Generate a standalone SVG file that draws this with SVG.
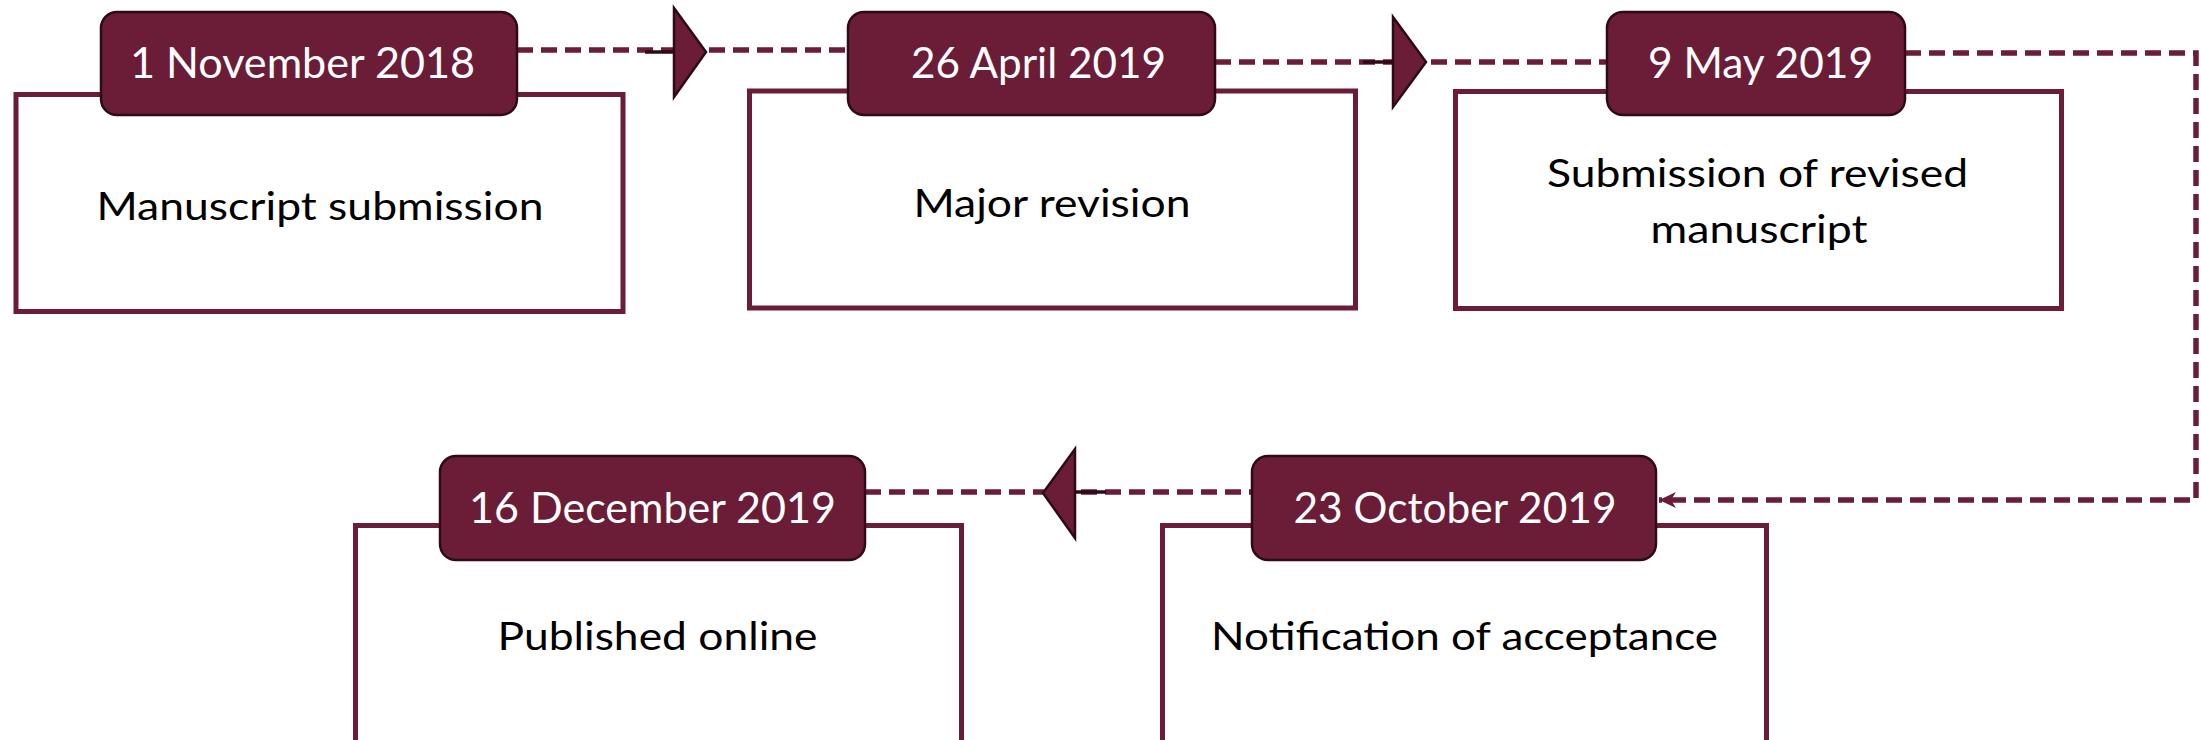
<svg xmlns="http://www.w3.org/2000/svg" width="2201" height="740" viewBox="0 0 2201 740">
<style>
.box{fill:#ffffff;stroke:#6B1D37;stroke-width:5}
.pill{fill:#6B1D37;stroke:#2E0A16;stroke-width:2.5}
.date{font-family:Lato,"Liberation Sans",sans-serif;font-size:42px;fill:#ffffff;text-anchor:middle}
.lbl{font-family:Lato,"Liberation Sans",sans-serif;font-size:38px;fill:#000000;text-anchor:middle}
.dash{fill:none;stroke:#6B1D37;stroke-width:5.5;stroke-dasharray:16 8}
.seg{stroke:#2E0A16;stroke-width:3.5}
.head{fill:#6B1D37;stroke:#2E0A16;stroke-width:2.5;stroke-linejoin:miter}
</style>
<defs>
<marker id="small" viewBox="0 0 20 20" refX="17" refY="10" markerWidth="20" markerHeight="20" markerUnits="userSpaceOnUse" orient="auto">
<path d="M0,2 L17,10 L0,18 L5,10 Z" fill="#6B1D37"/>
</marker>
</defs>
<g id="connectors">
<line class="dash" x1="517" y1="50" x2="848" y2="50"/>
<line class="seg" x1="645" y1="52" x2="675" y2="52"/>
<polygon class="head" points="674,8 706,52 674,97"/>
<line class="dash" x1="1215" y1="62" x2="1607" y2="62"/>
<line class="seg" x1="1363" y1="62" x2="1393" y2="62"/>
<polygon class="head" points="1393,17 1426,62 1393,107"/>
<path class="dash" d="M1905,53 H2196 V500 H1659" marker-end="url(#small)"/>
<line class="dash" x1="865" y1="492" x2="1252" y2="492"/>
<line class="seg" x1="1075" y1="492" x2="1106" y2="492"/>
<polygon class="head" points="1075,449 1043,493 1075,538"/>
</g>
<g id="node1">
<rect class="box" x="16" y="94.5" width="607" height="217"/>
<rect class="pill" x="101" y="12" width="416" height="103" rx="16"/>
<text class="date" x="302.5" y="78" textLength="345" lengthAdjust="spacingAndGlyphs">1 November 2018</text>
<text class="lbl" x="320" y="220" textLength="447" lengthAdjust="spacingAndGlyphs">Manuscript submission</text>
</g>
<g id="node2">
<rect class="box" x="749.5" y="91" width="606" height="217"/>
<rect class="pill" x="848" y="12" width="367" height="103" rx="16"/>
<text class="date" x="1038.5" y="78" textLength="255" lengthAdjust="spacingAndGlyphs">26 April 2019</text>
<text class="lbl" x="1052" y="217" textLength="277" lengthAdjust="spacingAndGlyphs">Major revision</text>
</g>
<g id="node3">
<rect class="box" x="1455.5" y="91.5" width="606" height="217"/>
<rect class="pill" x="1607" y="12" width="298" height="103" rx="16"/>
<text class="date" x="1760.5" y="78" textLength="225" lengthAdjust="spacingAndGlyphs">9 May 2019</text>
<text class="lbl" x="1757.5" y="187" textLength="421" lengthAdjust="spacingAndGlyphs">Submission of revised</text>
<text class="lbl" x="1759" y="243" textLength="217" lengthAdjust="spacingAndGlyphs">manuscript</text>
</g>
<g id="node4">
<rect class="box" x="355.5" y="525.5" width="606" height="240"/>
<rect class="pill" x="440" y="456" width="425" height="104" rx="16"/>
<text class="date" x="652.5" y="523" textLength="367" lengthAdjust="spacingAndGlyphs">16 December 2019</text>
<text class="lbl" x="657.5" y="650" textLength="320" lengthAdjust="spacingAndGlyphs">Published online</text>
</g>
<g id="node5">
<rect class="box" x="1162.5" y="525.5" width="604" height="240"/>
<rect class="pill" x="1252" y="456" width="404" height="104" rx="16"/>
<text class="date" x="1455" y="523" textLength="323" lengthAdjust="spacingAndGlyphs">23 October 2019</text>
<text class="lbl" x="1464.5" y="650" textLength="507" lengthAdjust="spacingAndGlyphs">Notification of acceptance</text>
</g>
</svg>
